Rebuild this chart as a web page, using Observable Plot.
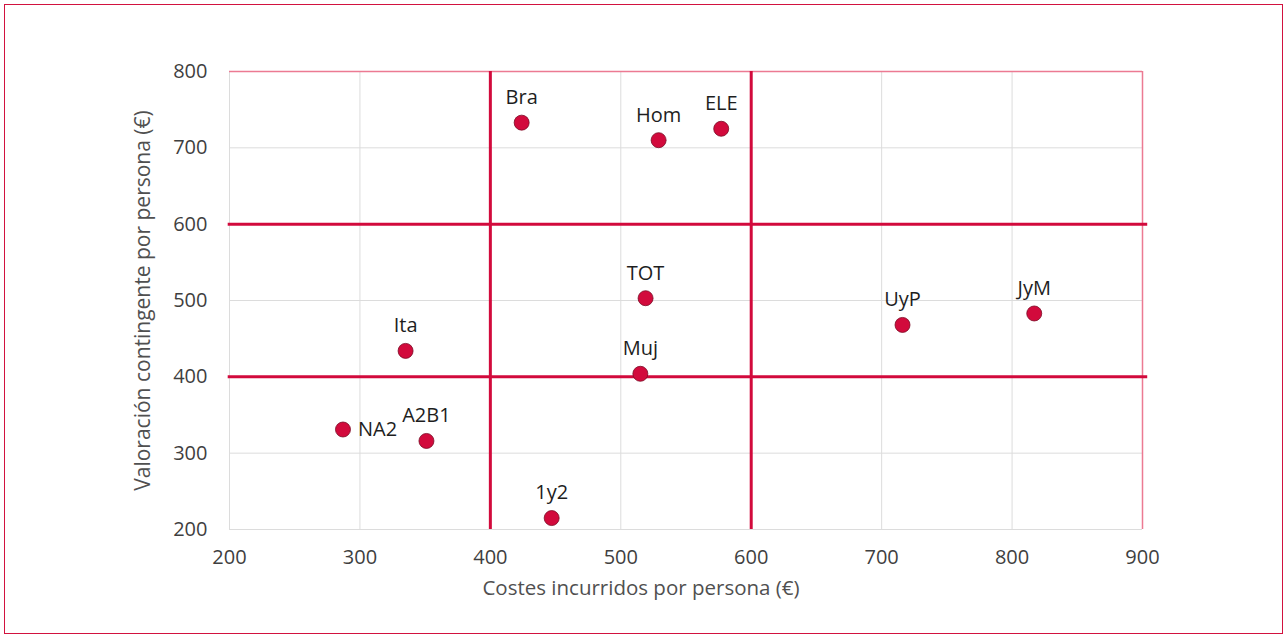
<!DOCTYPE html>
<html>
<head>
<meta charset="utf-8">
<script src="https://cdn.jsdelivr.net/npm/d3@7"></script>
<script src="https://cdn.jsdelivr.net/npm/@observablehq/plot@0.6"></script>
<style>
  html, body { margin: 0; padding: 0; background: #fff; }
  #wrap { position: relative; width: 1287px; height: 639px; overflow: hidden; }
  #frame { position: absolute; left: 4px; top: 4px; width: 1277px; height: 628px; border: 1.5px solid #d2123f; box-sizing: content-box; pointer-events: none; }
  #chart { position: absolute; left: 0; top: 0; }
</style>
</head>
<body>
<div id="wrap"><div id="chart"></div><div id="frame"></div></div>
<script>
const labels = ["Bra", "Hom", "ELE", "TOT", "Muj", "Ita", "NA2", "A2B1", "1y2", "UyP", "JyM"];
const costs = [424, 529, 577, 519, 515, 335, 287, 351, 447, 716, 817];
const valuations = [733, 710, 725, 503, 404, 434, 331, 316, 215, 468, 483];
const labelSide = ["top", "top", "top", "top", "top", "top", "right", "top", "top", "top", "top"];
const xTicks = [200, 300, 400, 500, 600, 700, 800, 900];
const yTicks = [200, 300, 400, 500, 600, 700, 800];
const xThresholds = [400, 600];
const yThresholds = [400, 600];
const xTitle = "Costes incurridos por persona (€)";
const yTitle = "Valoración contingente por persona (€)";

const points = labels.map((l, i) => ({label: l, x: costs[i], y: valuations[i], side: labelSide[i]}));
const abovePts = points.filter(d => d.side === "top");
const rightPts = points.filter(d => d.side === "right");

const red = "#d20a3c";
const font = "'Open Sans', 'Noto Sans', sans-serif";

const chart = Plot.plot({
  width: 1287,
  height: 639,
  marginLeft: 229,
  marginRight: 145,
  marginTop: 71,
  marginBottom: 110,
  style: {fontFamily: font, fontSize: "20px", background: "transparent"},
  x: {domain: [200, 900], ticks: xTicks},
  y: {domain: [200, 800], ticks: yTicks},
  marks: [
    Plot.gridX(xTicks, {stroke: "#dcdcdc", strokeOpacity: 1, strokeWidth: 1}),
    Plot.gridY(yTicks, {stroke: "#dcdcdc", strokeOpacity: 1, strokeWidth: 1}),
    Plot.ruleY([800], {stroke: "#ec7a92", strokeWidth: 1.5}),
    Plot.ruleX([900], {stroke: "#ec7a92", strokeWidth: 1.5}),
    Plot.ruleX(xThresholds, {stroke: red, strokeWidth: 3}),
    Plot.ruleY(yThresholds, {x1: 199, x2: 904, stroke: red, strokeWidth: 3, clip: false}),
    Plot.axisX(xTicks, {tickSize: 0, tickPadding: 20, fontSize: 20, fill: "#3f3f3f", label: null}),
    Plot.axisY(yTicks, {tickSize: 0, tickPadding: 22, fontSize: 20, fill: "#3f3f3f", label: null}),
    Plot.text([xTitle], {frameAnchor: "bottom", dy: 65, dx: -45, fontSize: 20.5, fill: "#505050"}),
    Plot.text([yTitle], {frameAnchor: "left", textAnchor: "middle", dx: -86, rotate: -90, fontSize: 21, fill: "#505050"}),
    Plot.dot(points, {x: "x", y: "y", r: 7.5, fill: red, stroke: "#7a0a24", strokeWidth: 0.8}),
    Plot.text(abovePts, {x: "x", y: "y", text: "label", dy: -25, fontSize: 20, fill: "#1e1e1e"}),
    Plot.text(rightPts, {x: "x", y: "y", text: "label", dx: 15, textAnchor: "start", fontSize: 20, fill: "#1e1e1e"})
  ]
});
document.getElementById("chart").appendChild(chart);
</script>
</body>
</html>
